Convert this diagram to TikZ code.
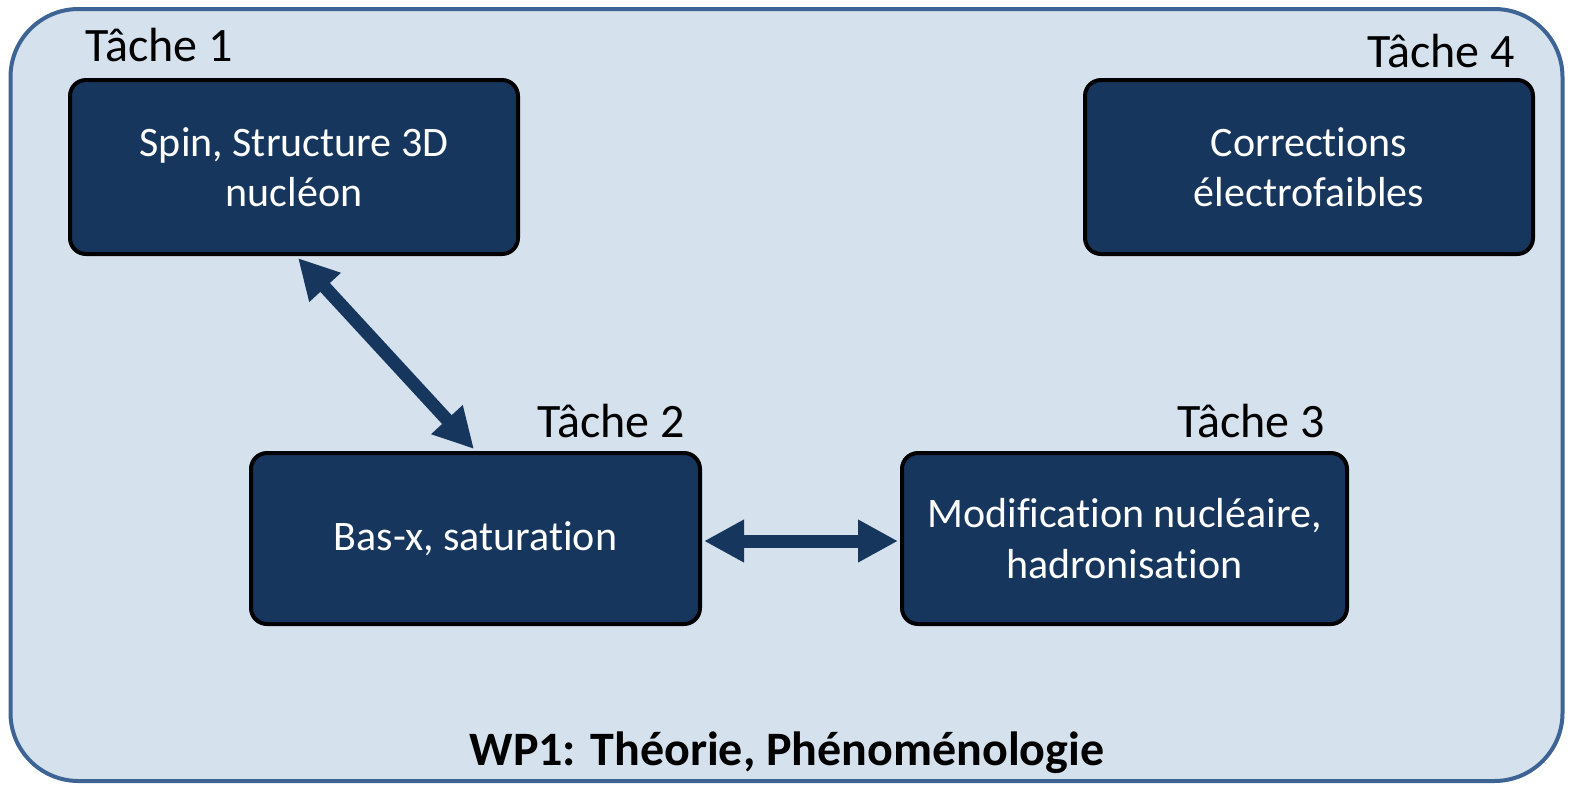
\documentclass[tikz,border=0pt]{standalone}
\usepackage{fontspec}
\setmainfont{Carlito}[Ligatures=NoCommon]
\usetikzlibrary{arrows.meta}
\definecolor{bgfill}{HTML}{D6E1EE}
\definecolor{bgline}{HTML}{3D6494}
\definecolor{boxfill}{HTML}{17365D}
\begin{document}
\begin{tikzpicture}[x=0.5pt,y=-0.5pt,
  task/.style={draw=black,line width=2pt,fill=boxfill,rounded corners=8pt,
    text=white,font=\fontsize{21pt}{25.3pt}\selectfont,align=center,inner sep=0pt},
  tlabel/.style={font=\fontsize{24pt}{29pt}\selectfont,inner sep=0pt,text=black},
  biarrow/.style={draw=boxfill,line width=6.5pt,
    {Triangle[length=20pt,width=20pt]}-{Triangle[length=20pt,width=20pt]}}]
\useasboundingbox (0,0) rectangle (1570,789);
\node[draw=bgline,fill=bgfill,line width=2pt,rounded corners=34pt,
  minimum width=776pt,minimum height=386pt,inner sep=0pt] (wp) at (786.5,395) {};
\node[task,minimum width=224pt,minimum height=87pt] (b1) at (294,167) {Spin, Structure 3D\\nucléon};
\node[task,minimum width=224pt,minimum height=87pt] (b4) at (1309,167) {Corrections\\électrofaibles};
\node[task,minimum width=224.5pt,minimum height=85.5pt] (b2) at (475.5,538.5) {Bas-x, saturation};
\node[task,minimum width=222.5pt,minimum height=85.5pt] (b3) at (1124.5,538.5) {Modification nucléaire,\\hadronisation};
\node[tlabel,anchor=base west] (t1) at (85,61) {Tâche 1};
\node[tlabel,anchor=base east] (t4) at (1515,67) {Tâche 4};
\node[tlabel,anchor=base east] (t2) at (685,437) {Tâche 2};
\node[tlabel,anchor=base east] (t3) at (1325,437) {Tâche 3};
\node[font=\bfseries\fontsize{24pt}{29pt}\selectfont,anchor=base,inner sep=0pt] (title) at (787,765) {WP1: Théorie, Phénoménologie};
\draw[biarrow] ([xshift=115pt,yshift=-1pt]b1.south west) -- ([xshift=112.5pt,yshift=1pt]b2.north west);
\draw[biarrow] ([xshift=1pt,yshift=-1.25pt]b2.east) -- ([xshift=-1pt,yshift=-1.25pt]b3.west);
\end{tikzpicture}
\end{document}
